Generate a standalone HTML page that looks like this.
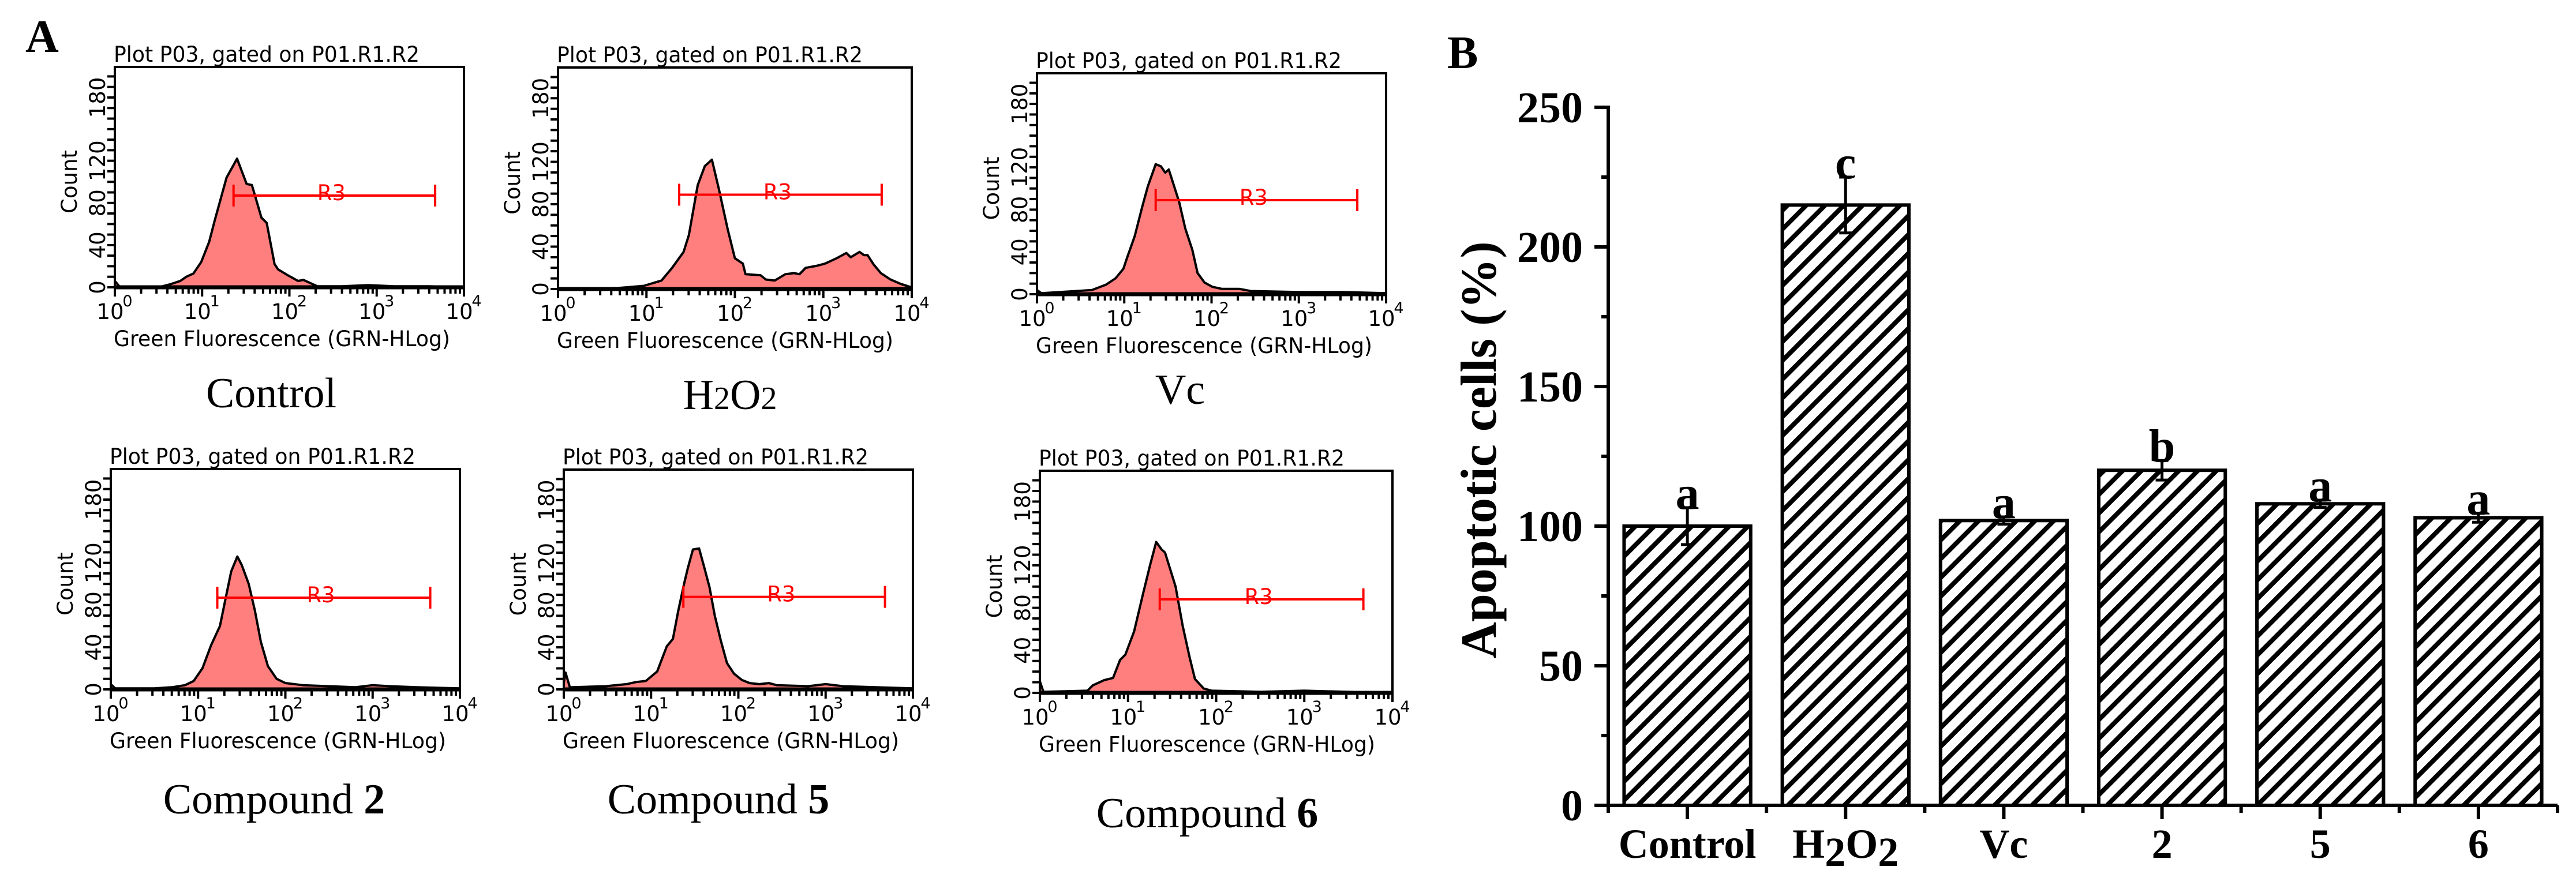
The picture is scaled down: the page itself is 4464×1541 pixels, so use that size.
<!DOCTYPE html>
<html><head><meta charset="utf-8"><style>
html,body{margin:0;padding:0;background:#fff;}
svg{display:block;}
</style></head><body>
<svg id="fig" xmlns="http://www.w3.org/2000/svg" width="4464" height="1541" viewBox="0 0 4464 1541">
<defs>
<pattern id="hatch" patternUnits="userSpaceOnUse" width="23" height="23" patternTransform="rotate(45)">
<rect width="23" height="23" fill="#fff"/>
<rect x="0" y="0" width="8" height="23" fill="#000"/>
</pattern>
</defs>
<text x="44" y="90" font-family="Liberation Serif, serif" font-weight="bold" font-size="80">A</text>
<text x="2508" y="118" font-family="Liberation Serif, serif" font-weight="bold" font-size="80">B</text>
<g id="flow"></g>
<g id="bars"></g>
</svg>
<script>
// ---------- Flow cytometry histogram data (x = log10 fluorescence, y = count) ----------
const ctrlX = [0,0.05,0.1,0.5,0.64,0.75,0.82,0.9,0.99,1.08,1.15,1.28,1.40,1.51,1.57,1.68,1.74,1.83,1.87,1.99,2.1,2.16,2.32,2.6,2.9,3.2,3.6,4];
const ctrlY = [6,1,0,0,3,6,10,13,24,43,65,104,122,98,97,66,61,22,17,11,6,7,1,1,2,1,1,0];
const h2o2X = [0,0.68,0.97,1.17,1.29,1.42,1.48,1.58,1.66,1.74,1.82,1.92,2.0,2.09,2.12,2.29,2.35,2.45,2.57,2.67,2.73,2.8,2.93,3.02,3.15,3.26,3.31,3.41,3.46,3.5,3.57,3.65,3.76,3.87,3.98,4];
const h2o2Y = [0,1,3,8,20,35,51,98,116,122,94,56,29,24,14,13,9,8,14,15,14,20,22,24,29,34,30,35,32,32,23,15,9,5,2,0];
const vcX = [0,0.05,0.45,0.63,0.79,0.9,0.99,1.03,1.12,1.21,1.27,1.33,1.36,1.42,1.47,1.51,1.56,1.63,1.7,1.78,1.84,1.92,2.01,2.12,2.32,2.45,3.0,3.5,4];
const vcY = [4,1,3,4,9,15,24,34,55,84,102,116,123,121,115,118,105,87,62,42,20,11,7,5,5,3,2,2,1];
const c2X = [0,0.05,0.5,0.7,0.85,0.95,1.05,1.15,1.25,1.32,1.38,1.45,1.5,1.58,1.65,1.72,1.8,1.9,2.0,2.2,2.5,2.8,3.0,3.2,3.5,4];
const c2Y = [5,1,1,2,4,8,20,42,60,88,112,126,118,100,75,45,22,10,6,4,3,2,4,3,2,1];
const c5X = [0,0.02,0.07,0.48,0.72,0.83,0.94,1.07,1.18,1.25,1.31,1.38,1.42,1.48,1.55,1.6,1.67,1.73,1.8,1.87,1.95,2.04,2.13,2.24,2.35,2.44,2.8,3.0,3.2,3.6,4];
const c5Y = [6,16,2,3,5,7,8,17,41,48,74,101,115,133,134,119,97,70,46,25,15,9,6,5,6,4,3,5,3,2,1];
const c6X = [0,0.04,0.54,0.6,0.73,0.83,0.91,0.97,1.07,1.17,1.25,1.32,1.38,1.42,1.54,1.62,1.7,1.76,1.86,1.95,2.5,3.0,3.5,4];
const c6Y = [11,1,2,7,12,14,31,36,58,93,120,142,135,132,100,63,33,13,4,2,1,2,1,0];
// gate R3: [start log10, end log10, count level]
const gateStart = [1.36,1.37,1.36,1.22,1.37,1.36];
const gateEnd = [3.67,3.66,3.67,3.66,3.68,3.67];
const gateLevel = [87,89,89,87,88,88];
const panelNames = ["Control","H2O2","Vc","Compound 2","Compound 5","Compound 6"];
const yTickLabels = [0,40,80,120,180];
const xDecades = [0,1,2,3,4];

// ---------- Bar chart data ----------
const categories = ["Control","H2O2","Vc","2","5","6"];
const barValues = [100,215,102,120,108,103];
const barErrors = [6.6,10,1.3,3.5,1.3,1.6];
const sigLetters = ["a","c","a","b","a","a"];
const barYTicks = [0,50,100,150,200,250];

const NS = "http://www.w3.org/2000/svg";
function mk(tag, attrs, parent){const e=document.createElementNS(NS,tag);for(const k in attrs)e.setAttribute(k,attrs[k]);parent.appendChild(e);return e;}

const panels = [
 {x0:199,y0:116,x1:804,y1:498,lx:470,ly:706,xs:ctrlX,ys:ctrlY},
 {x0:967,y0:117,x1:1580,y1:501,lx:1265,ly:709,xs:h2o2X,ys:h2o2Y},
 {x0:1797,y0:127,x1:2402,y1:510,lx:2045,ly:700,xs:vcX,ys:vcY},
 {x0:192,y0:813,x1:797,y1:1195,lx:475,ly:1410,xs:c2X,ys:c2Y},
 {x0:977,y0:814,x1:1582,y1:1195,lx:1245,ly:1410,xs:c5X,ys:c5Y},
 {x0:1802,y0:816,x1:2413,y1:1201,lx:2092,ly:1434,xs:c6X,ys:c6Y}
];
const flow = document.getElementById('flow');
const SANS = "DejaVu Sans, sans-serif";
panels.forEach((p,i)=>{
  const g = mk('g',{},flow);
  
  
  const dec=(p.x1-p.x0)/4, ky=(p.y1-p.y0)/209;
  const X=v=>p.x0+v*dec, Y=c=>p.y1-c*ky;
  const t=mk('text',{x:p.x0-2,y:p.y0-9,'font-family':SANS,'font-size':37,textLength:530,lengthAdjust:'spacingAndGlyphs'},g);
  t.textContent="Plot P03, gated on P01.R1.R2";
  
  
  let d='M'+X(p.xs[0])+','+Y(0);
  p.xs.forEach((v,j)=>{d+=' L'+X(v).toFixed(1)+','+Y(p.ys[j]).toFixed(1);});
  d+=' L'+X(p.xs[p.xs.length-1])+','+Y(0)+' Z';
  const h=mk('path',{d:d,fill:'#ff7f7f',stroke:'#000','stroke-width':4,'stroke-linejoin':'round'},g);
  
  
  const fr=mk('rect',{x:p.x0,y:p.y0,width:p.x1-p.x0,height:p.y1-p.y0,fill:'none',stroke:'#000','stroke-width':4},g);
  
  
  mk('line',{x1:p.x0,y1:p.y1,x2:p.x1,y2:p.y1,stroke:'#000','stroke-width':7},g);
  for(let c=0;c<=200;c+=10){mk('line',{x1:p.x0-13,y1:Y(c),x2:p.x0,y2:Y(c),stroke:'#000','stroke-width':4},g);}
  yTickLabels.forEach(v=>{
    const tl=mk('text',{x:0,y:0,transform:`translate(${p.x0-17},${Y(v)}) rotate(-90)`,'font-family':SANS,'font-size':37,'text-anchor':'middle'},g);
    tl.textContent=v;
    
    
  });
  const cl=mk('text',{x:0,y:0,transform:`translate(${p.x0-66},${(p.y0+p.y1)/2+8}) rotate(-90)`,'font-family':SANS,'font-size':37,'text-anchor':'middle'},g);
  cl.textContent="Count";
  
  
  for(let dd=0;dd<4;dd++){for(let m=1;m<=9;m++){const xv=X(dd+Math.log10(m));mk('line',{x1:xv,y1:p.y1,x2:xv,y2:p.y1+(m===1?16:11),stroke:'#000','stroke-width':4},g);}}
  mk('line',{x1:X(4),y1:p.y1,x2:X(4),y2:p.y1+16,stroke:'#000','stroke-width':4},g);
  xDecades.forEach(v=>{
    const tl=mk('text',{x:X(v)-8,y:p.y1+55,'font-family':SANS,'font-size':37,'text-anchor':'middle'},g);
    tl.textContent="10";
    
    
    const sp=mk('text',{x:X(v)+22,y:p.y1+33,'font-family':SANS,'font-size':27,'text-anchor':'middle'},g);
    sp.textContent=v;
    
    
  });
  const xl=mk('text',{x:p.x0-2,y:p.y1+102,'font-family':SANS,'font-size':37,textLength:583,lengthAdjust:'spacingAndGlyphs'},g);
  xl.textContent="Green Fluorescence (GRN-HLog)";
  
  
  const gy=Y(gateLevel[i]), ga=X(gateStart[i]), gb=X(gateEnd[i]);
  const gl=mk('g',{stroke:'#f00','stroke-width':4},g);
  
  
  mk('line',{x1:ga,y1:gy,x2:gb,y2:gy},gl);
  mk('line',{x1:ga,y1:gy-19,x2:ga,y2:gy+19},gl);
  mk('line',{x1:gb,y1:gy-19,x2:gb,y2:gy+19},gl);
  const rt=mk('text',{x:(ga+gb)/2-5,y:gy+8,'font-family':SANS,'font-size':37,fill:'#f00','text-anchor':'middle'},g);
  rt.textContent="R3";
  
  
  const nm=mk('text',{x:p.lx,y:p.ly,'font-family':'Liberation Serif, serif','font-size':74,'text-anchor':'middle'},g);
  
  
  const name=panelNames[i];
  if(name==="H2O2"){nm.innerHTML='H<tspan font-size="56">2</tspan>O<tspan font-size="56">2</tspan>';}
  else if(name.startsWith("Compound ")){nm.innerHTML='Compound <tspan font-weight="bold">'+name.slice(9)+'</tspan>';}
  else nm.textContent=name;
});

// ---------- Bar chart ----------
const bars=document.getElementById('bars');
const AX=2787, Y0=1396, PPU=4.84, AXEND=4432;
const catW=(AXEND-AX)/categories.length;
const by=v=>Y0-v*PPU, bx=i=>AX+catW*(i+0.5);
const SER="Liberation Serif, serif";
categories.forEach((c,i)=>{
  const bw=catW*0.8, cx=bx(i);
  const r=mk('rect',{x:cx-bw/2,y:by(barValues[i]),width:bw,height:Y0-by(barValues[i]),fill:'url(#hatch)',stroke:'#000','stroke-width':6},bars);
  
  
  const eg=mk('g',{stroke:'#000','stroke-width':5},bars);
  
  
  const t=by(barValues[i]+barErrors[i]), b=by(barValues[i]-barErrors[i]);
  mk('line',{x1:cx,y1:t,x2:cx,y2:b},eg);
  mk('line',{x1:cx-11,y1:t,x2:cx+11,y2:t},eg);
  mk('line',{x1:cx-11,y1:b,x2:cx+11,y2:b},eg);
  const s=mk('text',{x:cx,y:t+2,'font-family':SER,'font-weight':'bold','font-size':82,'text-anchor':'middle'},bars);
  s.textContent=sigLetters[i];
  
  
  const l=mk('text',{x:cx,y:1487,'font-family':SER,'font-weight':'bold','font-size':72,'text-anchor':'middle'},bars);
  
  
  if(c==="H2O2"){l.innerHTML='H<tspan dy="14">2</tspan><tspan dy="-14">O</tspan><tspan dy="14">2</tspan>';}
  else l.textContent=c;
  mk('line',{x1:cx,y1:Y0,x2:cx,y2:Y0+24,stroke:'#000','stroke-width':6},bars);
});
for(let i=0;i<=categories.length;i++){const x=AX+catW*i;mk('line',{x1:x,y1:Y0,x2:x,y2:Y0+13,stroke:'#000','stroke-width':6},bars);}
const ya=mk('line',{x1:AX,y1:by(250)-3,x2:AX,y2:Y0+3,stroke:'#000','stroke-width':6},bars);


const xa=mk('line',{x1:AX-24,y1:Y0,x2:AXEND,y2:Y0,stroke:'#000','stroke-width':6},bars);


const yMax=barYTicks[barYTicks.length-1];
barYTicks.forEach(v=>{
  mk('line',{x1:AX-24,y1:by(v),x2:AX,y2:by(v),stroke:'#000','stroke-width':6},bars);
  if(v+25<yMax) mk('line',{x1:AX-12,y1:by(v+25),x2:AX,y2:by(v+25),stroke:'#000','stroke-width':6},bars);
  const t=mk('text',{x:2743,y:by(v)+26,'font-family':SER,'font-weight':'bold','font-size':76,'text-anchor':'end'},bars);
  t.textContent=v;
  
  
});
const yt=mk('text',{x:0,y:0,transform:'translate(2592,780) rotate(-90)','font-family':SER,'font-weight':'bold','font-size':88,'text-anchor':'middle'},bars);
yt.textContent="Apoptotic cells (%)";


</script>
</body></html>
